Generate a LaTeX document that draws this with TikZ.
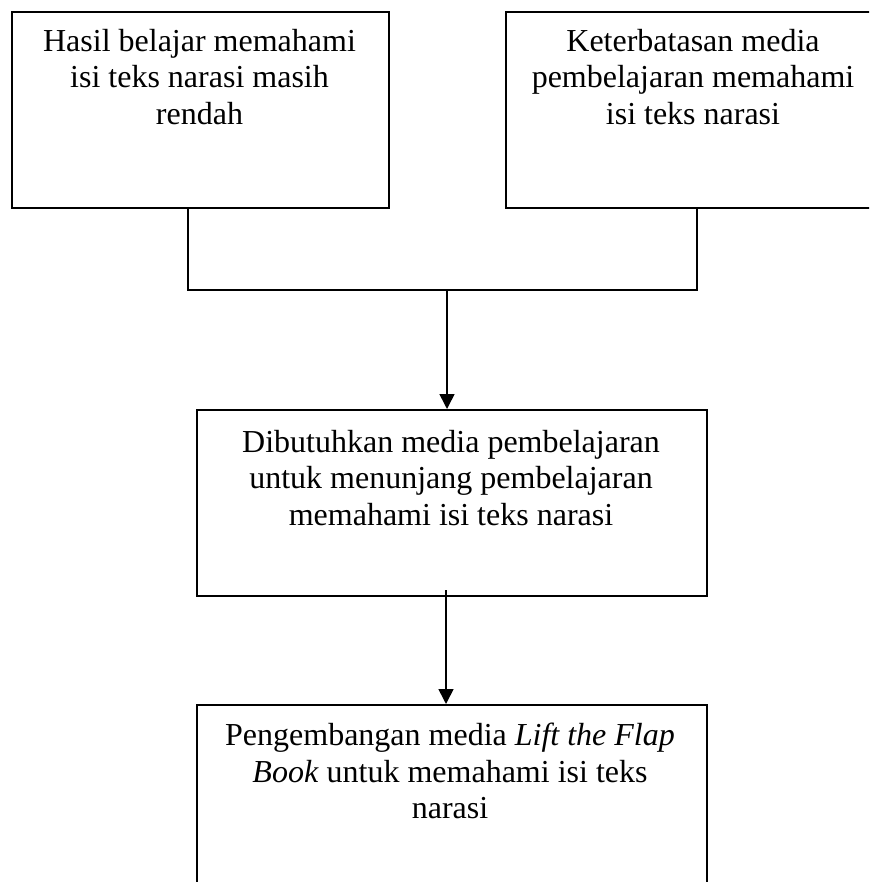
\documentclass[tikz,border=0pt]{standalone}
\usepackage{fontspec}
\setmainfont{Liberation Serif}
\usetikzlibrary{arrows.meta}
\begin{document}
\begin{tikzpicture}[x=1pt,y=-1pt,
  boxnode/.style={draw, line width=1.6pt, rectangle, anchor=north west, inner sep=0pt},
  txt/.style={anchor=north, inner sep=0pt, align=center, font=\fontsize{32}{36.5}\selectfont},
  conn/.style={line width=1.6pt},
  arr/.style={line width=1.6pt, -{Triangle[length=15pt,width=15pt]}}]
\useasboundingbox (0,0) rectangle (869,882);
\clip (0,0) rectangle (869,882);
\node[boxnode, minimum width=377pt, minimum height=196pt] (lb) at (11,11) {};
\node[boxnode, minimum width=380pt, minimum height=196pt] (rb) at (505,11) {};
\node[boxnode, minimum width=510pt, minimum height=186pt] (mb) at (196,409) {};
\node[boxnode, minimum width=510pt, minimum height=220pt] (bb) at (196,704) {};
\node[txt] (lt) at (199.5,29) {Hasil belajar memahami\\isi teks narasi masih\\rendah};
\node[txt] (rt) at (693,29) {Keterbatasan media\\pembelajaran memahami\\isi teks narasi};
\node[txt] (mt) at (451,430) {Dibutuhkan media pembelajaran\\untuk menunjang pembelajaran\\memahami isi teks narasi};
\node[txt] (bt) at (450,723) {Pengembangan media \textit{Lift the Flap}\\\textit{Book} untuk memahami isi teks\\narasi};
\coordinate (jl) at (188,290);
\coordinate (jr) at (697,290);
\coordinate (jc) at (447,290);
\coordinate (ms) at (446,590);
\draw[conn] (jl |- lb.south) -- (jl) -- (jr) -- (jr |- rb.south);
\draw[arr] (jc) -- (jc |- mb.north);
\draw[arr] (ms) -- (ms |- bb.north);
\end{tikzpicture}
\end{document}
